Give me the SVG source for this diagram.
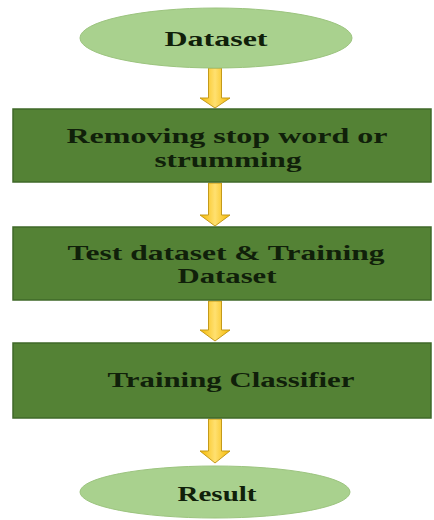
<svg xmlns="http://www.w3.org/2000/svg" width="434" height="520" viewBox="0 0 434 520">
<defs>
<linearGradient id="ag" x1="0" y1="0" x2="1" y2="0">
<stop offset="0" stop-color="#F5B800"/>
<stop offset="0.5" stop-color="#FFE070"/>
<stop offset="1" stop-color="#F5B800"/>
</linearGradient>
</defs>
<style>
.ell{fill:#A9D18E;stroke:#9CC47F;stroke-width:1}
.box{fill:#548235;stroke:#3F6828;stroke-width:1.5}
.t{font-family:"Liberation Serif","Times New Roman",serif;font-weight:bold;font-size:21px;fill:#10200A}
.arr{fill:url(#ag);stroke:#C49A1A;stroke-width:1}
</style>
<rect width="434" height="520" fill="#FFFFFF"/>
<g id="connectors">
<path class="arr" d="M208.5,68 H221.5 V98 H230 L215,108 L200,98 H208.5 Z"/>
<path class="arr" d="M208.5,183 H221.5 V215 H230 L215,226 L200,215 H208.5 Z"/>
<path class="arr" d="M208.5,301 H221.5 V330 H230 L215,341 L200,330 H208.5 Z"/>
<path class="arr" d="M208.5,419 H221.5 V451 H230 L215,463 L200,451 H208.5 Z"/>
</g>
<g id="dataset">
<ellipse class="ell" cx="216" cy="38" rx="136" ry="30"/>
<text class="t" x="216" y="46" text-anchor="middle" textLength="103" lengthAdjust="spacingAndGlyphs">Dataset</text>
</g>
<g id="removing">
<rect class="box" x="13" y="109" width="418" height="73"/>
<text class="t" x="227" y="143" text-anchor="middle" textLength="321" lengthAdjust="spacingAndGlyphs">Removing stop word or</text>
<text class="t" x="228" y="167" text-anchor="middle" textLength="147" lengthAdjust="spacingAndGlyphs">strumming</text>
</g>
<g id="split">
<rect class="box" x="13" y="227" width="418" height="73"/>
<text class="t" x="226" y="260" text-anchor="middle" textLength="317" lengthAdjust="spacingAndGlyphs">Test dataset &amp; Training</text>
<text class="t" x="227" y="283" text-anchor="middle" textLength="99" lengthAdjust="spacingAndGlyphs">Dataset</text>
</g>
<g id="classifier">
<rect class="box" x="13" y="343" width="418" height="75"/>
<text class="t" x="231" y="387" text-anchor="middle" textLength="247" lengthAdjust="spacingAndGlyphs">Training Classifier</text>
</g>
<g id="result">
<ellipse class="ell" cx="215" cy="492" rx="135" ry="26"/>
<text class="t" x="217" y="501" text-anchor="middle" textLength="79" lengthAdjust="spacingAndGlyphs">Result</text>
</g>
</svg>
